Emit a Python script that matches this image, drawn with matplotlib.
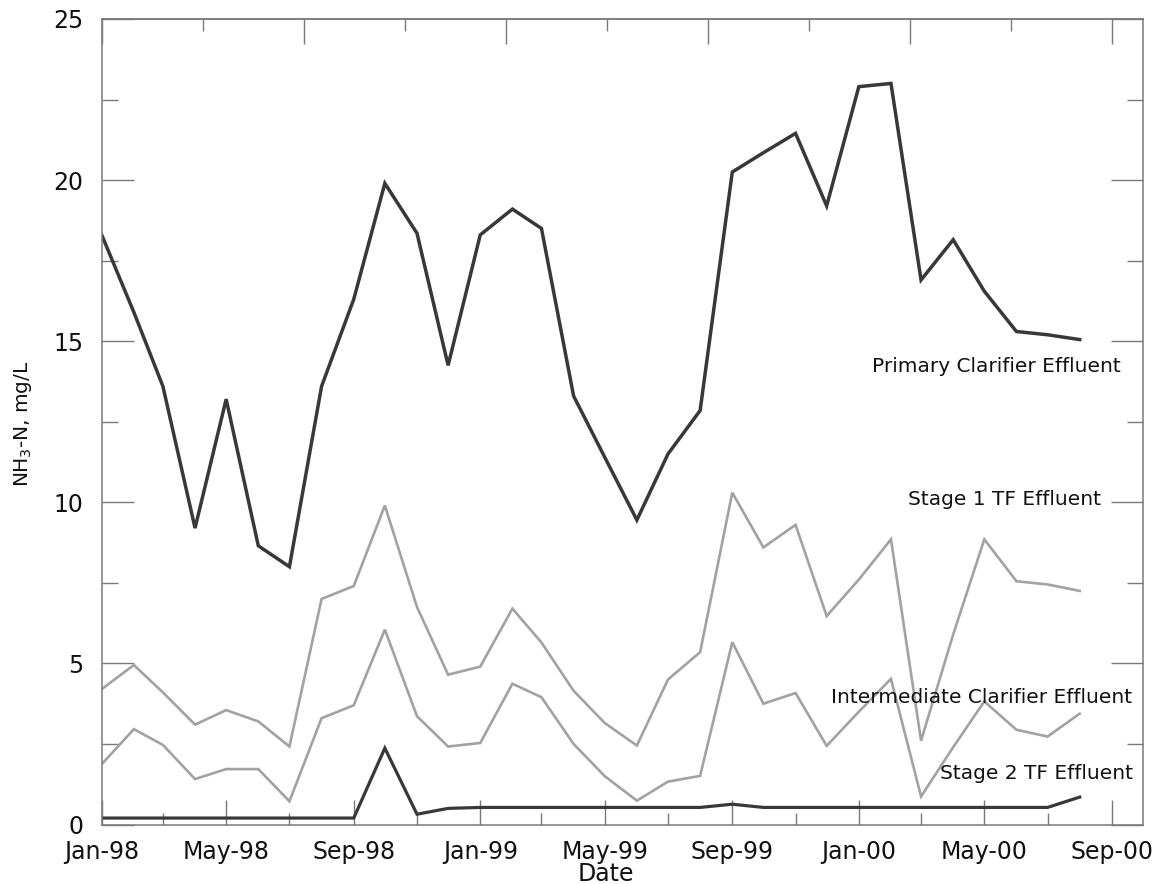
import matplotlib
matplotlib.use("Agg")
import matplotlib.pyplot as plt
import matplotlib.dates as mdates
from matplotlib.ticker import MultipleLocator, FixedLocator
import numpy as np
import pandas as pd

# Monthly sampling dates, Jan-1998 to Aug-2000
dates = pd.date_range("1998-01-01", periods=32, freq="MS")

# NH3-N concentrations, mg/L
primary_clarifier = [18.3, 15.9, 13.6, 9.2, 13.2, 8.65, 8.0, 13.6, 16.3, 19.9, 18.35, 14.25,
                     18.3, 19.1, 18.5, 13.3, 11.4, 9.45, 11.5, 12.85, 20.25, 20.85, 21.45, 19.2,
                     22.9, 23.0, 16.9, 18.15, 16.55, 15.3, 15.2, 15.05]
stage1_tf = [4.2, 4.95, 4.1, 3.1, 3.55, 3.2, 2.42, 7.0, 7.4, 9.9, 6.75, 4.65,
             4.9, 6.7, 5.65, 4.15, 3.15, 2.45, 4.5, 5.35, 10.3, 8.6, 9.3, 6.47,
             7.6, 8.85, 2.6, 5.9, 8.85, 7.55, 7.45, 7.25]
intermediate_clarifier = [1.87, 2.96, 2.47, 1.41, 1.72, 1.72, 0.72, 3.3, 3.7, 6.05, 3.36, 2.42,
                          2.53, 4.37, 3.95, 2.5, 1.5, 0.74, 1.33, 1.51, 5.66, 3.75, 4.08, 2.44,
                          3.5, 4.52, 0.87, 2.4, 3.82, 2.94, 2.73, 3.44]
stage2_tf = [0.2, 0.2, 0.2, 0.2, 0.2, 0.2, 0.2, 0.2, 0.2, 2.37, 0.32, 0.5,
             0.53, 0.53, 0.53, 0.53, 0.53, 0.53, 0.53, 0.53, 0.63, 0.53, 0.53, 0.53,
             0.53, 0.53, 0.53, 0.53, 0.53, 0.53, 0.53, 0.85]

series_labels = ["Primary Clarifier Effluent", "Stage 1 TF Effluent",
                 "Intermediate Clarifier Effluent", "Stage 2 TF Effluent"]

plt.rcParams["font.family"] = ["DejaVu Sans"]

W, H = 1165, 884
fig = plt.figure(figsize=(W / 100, H / 100), dpi=100)
fig.patch.set_facecolor("white")
ax = fig.add_axes([101.7 / W, 1 - 824.5 / H, (1143 - 101.7) / W, (824.5 - 19) / H])

dark = "#383838"
light = "#a2a2a2"
ax.plot(dates, stage1_tf, color=light, lw=1.9, solid_joinstyle="miter")
ax.plot(dates, intermediate_clarifier, color=light, lw=1.9, solid_joinstyle="miter")
ax.plot(dates, stage2_tf, color=dark, lw=2.3, solid_joinstyle="miter")
ax.plot(dates, primary_clarifier, color=dark, lw=2.5, solid_joinstyle="miter")

x0 = pd.Timestamp("1998-01-01")
x_end_ticks = pd.Timestamp("2000-09-01")
ax.set_xlim(x0, pd.Timestamp("2000-10-01"))
ax.set_ylim(0, 25)

axis_col = "#7a7a7a"
text_col = "#111111"
for sp in ax.spines.values():
    sp.set_color(axis_col)
    sp.set_linewidth(1.1)

# bottom date axis
ax.xaxis.set_major_locator(mdates.MonthLocator(bymonth=[1, 5, 9]))
ax.xaxis.set_minor_locator(mdates.MonthLocator(bymonth=[3, 7, 11]))
ax.xaxis.set_major_formatter(mdates.DateFormatter("%b-%y"))
ax.tick_params(axis="x", which="major", direction="in", length=18, width=1,
               color=axis_col, labelsize=17, pad=11, top=False, labelcolor=text_col)
ax.tick_params(axis="x", which="minor", direction="in", length=8.6, width=1,
               color=axis_col, top=False)

# value axis, mirrored on the right
ax.yaxis.set_major_locator(MultipleLocator(5))
ax.yaxis.set_minor_locator(MultipleLocator(2.5))
ax.tick_params(axis="y", which="major", direction="in", length=23, width=1,
               color=axis_col, labelsize=17, pad=13, right=True, labelcolor=text_col)
ax.tick_params(axis="y", which="minor", direction="in", length=11.5, width=1,
               color=axis_col, right=True)

# evenly spaced, unlabelled ticks along the top edge
top = ax.secondary_xaxis("top")
n0 = mdates.date2num(x0)
n1 = mdates.date2num(x_end_ticks)
edges = np.linspace(n0, n1, 11)
top.xaxis.set_major_locator(FixedLocator(edges[::2]))
top.xaxis.set_minor_locator(FixedLocator(edges[1::2]))
top.tick_params(axis="x", which="major", direction="in", length=18, width=1,
                color=axis_col, labeltop=False)
top.tick_params(axis="x", which="minor", direction="in", length=8.6, width=1,
                color=axis_col, labeltop=False)
top.spines["top"].set_color(axis_col)
top.spines["top"].set_linewidth(1.1)

# series annotations, right-aligned inside the frame
label_pos = [(0.979, 14.2), (0.9597, 10.1), (0.990, 3.95), (0.990, 1.57)]
trans = matplotlib.transforms.blended_transform_factory(ax.transAxes, ax.transData)
for (lx, ly), txt in zip(label_pos, series_labels):
    ax.text(lx, ly, txt, transform=trans, ha="right", va="center",
            fontsize=14.5, color=text_col)

fig.text(23 / W, 1 - 424 / H, "NH$_3$-N, mg/L", rotation=90, ha="center", va="center",
         fontsize=14.5, color=text_col)
fig.text(606 / W, 1 - 874 / H, "Date", ha="center", va="center", fontsize=17,
         color=text_col)

fig.savefig("out.png", dpi=100, facecolor="white")
